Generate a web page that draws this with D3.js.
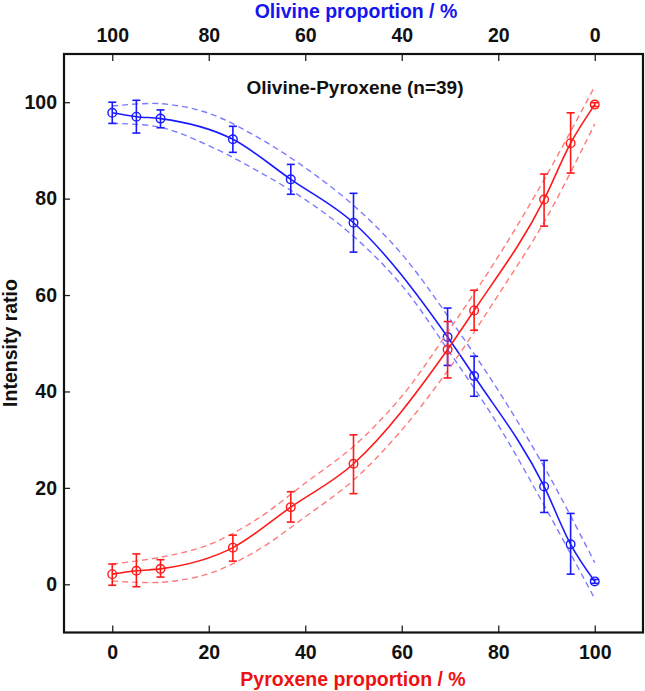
<!DOCTYPE html>
<html>
<head>
<meta charset="utf-8">
<script src="https://cdn.jsdelivr.net/npm/d3@7"></script>
<style>
  body { margin: 0; background: #fff; }
  svg text { font-family: "Liberation Sans", Arial, sans-serif; font-weight: bold; }
</style>
</head>
<body>
<svg width="645" height="691"></svg>
<script>
// pyroxene proportion (%) of each mixture
var pyroxene = [0, 5, 10, 25, 37, 50, 69.5, 75, 89.5, 95, 100];

// pyroxene intensity ratio with error bar ends
var pxMean = [2.1, 2.8, 3.2, 7.6, 16.0, 25.0, 48.7, 56.8, 79.8, 91.5, 99.5];
var pxLow  = [-0.2, -0.5, 1.5, 4.8, 12.9, 18.8, 42.8, 52.7, 74.3, 85.3, 99.1];
var pxHigh = [4.2, 6.3, 5.1, 10.2, 19.2, 31.0, 54.5, 61.0, 85.1, 97.8, 99.9];

// olivine intensity ratio with error bar ends
var olMean = [97.8, 97.0, 96.6, 92.3, 84.0, 75.0, 51.3, 43.2, 20.3, 8.3, 0.6];
var olLow  = [95.6, 93.6, 94.7, 89.6, 80.9, 68.9, 45.4, 39.0, 14.9, 2.1, 0.2];
var olHigh = [100.0, 100.4, 98.4, 95.0, 87.1, 81.1, 57.3, 47.3, 25.7, 14.7, 1.0];

// dashed confidence bands
var bandX    = [0, 10, 20, 30, 40, 50, 60, 70, 80, 90, 100];
var pxUpper  = [4.2, 5.6, 8.2, 13.5, 21.0, 28.6, 39.0, 53.0, 68.0, 84.8, 103.3];
var pxLower  = [0.7, 0.4, 2.2, 7.0, 14.0, 21.6, 32.0, 45.0, 60.0, 76.0, 95.5];
var olUpper  = [99.2, 99.7, 97.7, 92.8, 86.4, 78.6, 68.5, 55.0, 40.2, 23.5, 4.5];
var olLower  = [95.6, 94.8, 91.0, 85.8, 79.8, 72.2, 62.0, 48.0, 33.0, 15.5, -3.0];

var ticks = [0, 20, 40, 60, 80, 100];

var svg = d3.select("svg");
var mLeft = 64, mRight = 643, mTop = 54, mBottom = 632.5;

var x = d3.scaleLinear().domain([-10, 110]).range([mLeft, mRight]);
var xTop = d3.scaleLinear().domain([110, -10]).range([mLeft, mRight]);
var y = d3.scaleLinear().domain([-10, 110]).range([mBottom, mTop]);

// axes, ticks pointing inward
var gx = svg.append("g").attr("transform", "translate(0," + mBottom + ")")
    .call(d3.axisBottom(x).tickValues(ticks).tickSizeInner(-7).tickSizeOuter(0).tickPadding(13));
var gt = svg.append("g").attr("transform", "translate(0," + mTop + ")")
    .call(d3.axisTop(xTop).tickValues(ticks).tickSizeInner(-7).tickSizeOuter(0).tickPadding(12));
var gy = svg.append("g").attr("transform", "translate(" + mLeft + ",0)")
    .call(d3.axisLeft(y).tickValues(ticks).tickSizeInner(-6).tickSizeOuter(0).tickPadding(7));
[gx, gt, gy].forEach(function(g){
    g.select(".domain").remove();
    g.selectAll("line").attr("stroke", "#222").attr("stroke-width", 1.3);
    g.selectAll("text").attr("font-size", "19.5px").attr("fill", "#111");
});

svg.append("rect").attr("x", mLeft).attr("y", mTop)
    .attr("width", mRight - mLeft).attr("height", mBottom - mTop)
    .attr("fill", "none").attr("stroke", "#111").attr("stroke-width", 2.2);

// titles
svg.append("text").attr("x", 356).attr("y", 18).attr("text-anchor", "middle")
    .attr("font-size", "19.5px").attr("fill", "#1515ee").text("Olivine proportion / %");
svg.append("text").attr("x", 353).attr("y", 686).attr("text-anchor", "middle")
    .attr("font-size", "19.5px").attr("fill", "#ee1111").text("Pyroxene proportion / %");
svg.append("text").attr("transform", "translate(17,343) rotate(-90)").attr("text-anchor", "middle")
    .attr("font-size", "19.5px").attr("fill", "#111").text("Intensity ratio");
svg.append("text").attr("x", 355).attr("y", 94).attr("text-anchor", "middle")
    .attr("font-size", "19px").attr("fill", "#111").text("Olivine-Pyroxene (n=39)");

var plot = svg.append("g");

function drawSeries(mean, lo, hi, upper, lower, color, light){
    var band = d3.line().x(function(d, i){ return x(bandX[i]); }).y(function(d){ return y(d); })
        .curve(d3.curveCatmullRom);
    [upper, lower].forEach(function(b){
        plot.append("path").datum(b).attr("d", band)
            .attr("fill", "none").attr("stroke", light).attr("stroke-width", 1.4)
            .attr("stroke-dasharray", "6,4");
    });
    var line = d3.line().x(function(d, i){ return x(pyroxene[i]); }).y(function(d){ return y(d); })
        .curve(d3.curveMonotoneX);
    plot.append("path").datum(mean).attr("d", line)
        .attr("fill", "none").attr("stroke", color).attr("stroke-width", 1.6);

    var eb = plot.append("g").attr("stroke", color).attr("stroke-width", 1.6).attr("fill", "none");
    pyroxene.forEach(function(p, i){
        var cx = x(p);
        eb.append("line").attr("x1", cx).attr("x2", cx).attr("y1", y(lo[i])).attr("y2", y(hi[i]));
        eb.append("line").attr("x1", cx - 4).attr("x2", cx + 4).attr("y1", y(lo[i])).attr("y2", y(lo[i]));
        eb.append("line").attr("x1", cx - 4).attr("x2", cx + 4).attr("y1", y(hi[i])).attr("y2", y(hi[i]));
        eb.append("circle").attr("cx", cx).attr("cy", y(mean[i])).attr("r", 4.3).attr("stroke-width", 1.4);
    });
}

drawSeries(olMean, olLow, olHigh, olUpper, olLower, "#1a1aff", "#7b7bff");
drawSeries(pxMean, pxLow, pxHigh, pxUpper, pxLower, "#ff1a1a", "#ff7b7b");
</script>
</body>
</html>
